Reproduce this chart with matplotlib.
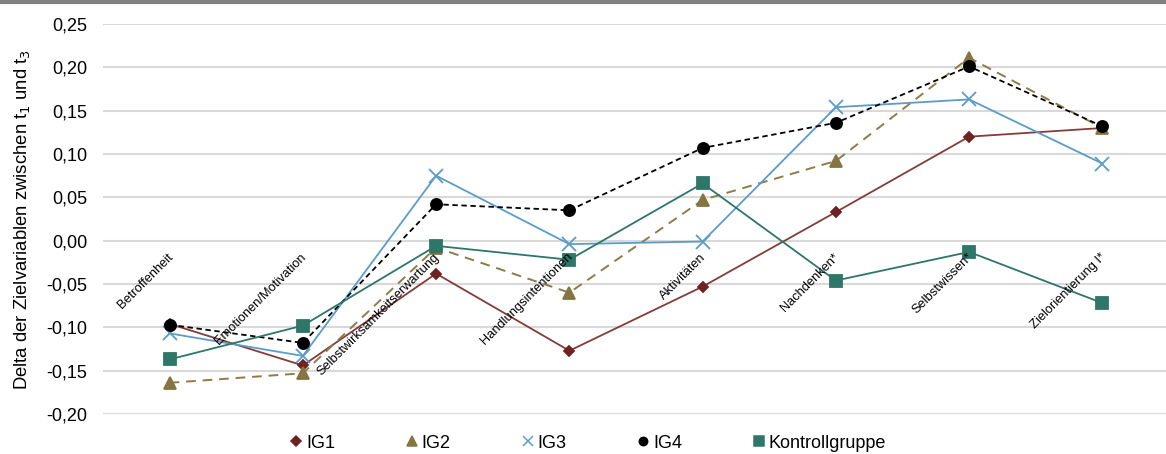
import matplotlib
matplotlib.use("Agg")
import matplotlib.pyplot as plt
from matplotlib.lines import Line2D

plt.rcParams['font.family'] = ['Liberation Sans', 'DejaVu Sans']

categories = ["Betroffenheit", "Emotionen/Motivation", "Selbstwirksamkeitserwartung",
              "Handlungsintentionen", "Aktivitäten", "Nachdenken*", "Selbstwissen*",
              "Zielorientierung I*"]

ig1 = [-0.096, -0.144, -0.038, -0.127, -0.053, 0.033, 0.120, 0.130]
ig2 = [-0.164, -0.153, -0.008, -0.060, 0.047, 0.092, 0.211, 0.130]
ig3 = [-0.107, -0.133, 0.075, -0.004, -0.001, 0.154, 0.163, 0.089]
ig4 = [-0.097, -0.118, 0.042, 0.035, 0.107, 0.136, 0.201, 0.132]
kontroll = [-0.137, -0.098, -0.006, -0.022, 0.066, -0.046, -0.013, -0.072]

yticks = [-0.20, -0.15, -0.10, -0.05, 0.00, 0.05, 0.10, 0.15, 0.20, 0.25]

W, H = 1166, 454
fig = plt.figure(figsize=(W / 100, H / 100), dpi=100)
ax = fig.add_axes([103 / W, 40 / H, 1066 / W, 390 / H])

x = list(range(len(categories)))

series = [
    dict(y=ig1, label="IG1", color="#843C3A", mfc="#6E2222", marker="D", ms=5.5,
         lms=5.5, ls="-", lw=1.3),
    dict(y=ig2, label="IG2", color="#8C7D48", mfc="#857540", marker="^", ms=8,
         lms=7.0, ls=(0, (5, 3.5)), lw=1.4),
    dict(y=ig3, label="IG3", color="#5B9CC8", mfc="#5B9CC8", marker="x", ms=10,
         lms=7.0, ls="-", lw=1.3),
    dict(y=ig4, label="IG4", color="#000000", mfc="#000000", marker="o", ms=8,
         lms=6.0, ls=(0, (3, 2)), lw=1.3),
    dict(y=kontroll, label="Kontrollgruppe", color="#2E7668", mfc="#2E7668", marker="s",
         ms=8, lms=6.8, ls="-", lw=1.3),
]

handles = []
for s in series:
    ax.plot(x, s["y"], color=s["color"], ls=s["ls"], lw=s["lw"], zorder=3)
    ax.plot(x, s["y"], ls="none", marker=s["marker"], ms=s["ms"], mfc=s["mfc"],
            mec=s["mfc"], mew=1.3, zorder=4)
    handles.append(Line2D([], [], ls="none", marker=s["marker"], ms=s["lms"],
                          mfc=s["mfc"], mec=s["mfc"], mew=1.1, label=s["label"]))

ax.set_xlim(-0.5, len(categories) - 0.5)
ax.set_ylim(-0.20, 0.25)
ax.set_yticks(yticks)
ax.set_yticklabels([f"{v:.2f}".replace(".", ",").replace("-0,00", "0,00") for v in yticks],
                   fontsize=13)
ax.set_xticks([])
ax.yaxis.grid(True, color="#D9D9D9", lw=1.5, zorder=0)
ax.set_axisbelow(True)
ax.tick_params(axis="y", length=0, pad=11.5)
for sp in ax.spines.values():
    sp.set_visible(False)

# category names, rotated, sitting just under the zero line
for i, name in enumerate(categories):
    ax.text(i - 0.02, -0.012, name, rotation=45, rotation_mode="anchor",
            ha="right", va="top", fontsize=9.3, zorder=5)

ax.set_ylabel("Delta der Zielvariablen zwischen t$_1$ und t$_3$", fontsize=13.3,
              labelpad=10)

fig.legend(handles=handles, loc="center", bbox_to_anchor=(589 / W, 1 - 443 / H),
           ncol=5, frameon=False, fontsize=13, handlelength=0.5,
           handletextpad=0.3, columnspacing=4.0, borderpad=0, borderaxespad=0)

# thin frame band along the top edge
fig.add_artist(Line2D([0, 1], [1 - 1.5 / H, 1 - 1.5 / H], transform=fig.transFigure,
                      color="#808080", lw=3))

fig.savefig("out.png", dpi=100)
